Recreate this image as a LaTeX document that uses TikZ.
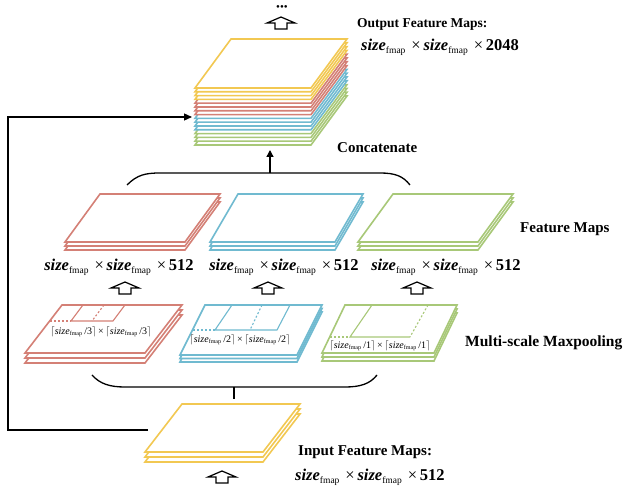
\documentclass[tikz,border=0pt]{standalone}
\usepackage{fontspec}
\setmainfont{Liberation Serif}
\usetikzlibrary{arrows.meta}
\definecolor{cy}{RGB}{242,200,82}
\definecolor{cr}{RGB}{212,128,118}
\definecolor{cb}{RGB}{112,186,208}
\definecolor{cg}{RGB}{168,200,120}
% color, bx, by, w, s, d, from, to, spacing
\newcommand\slabstack[9]{%
  \foreach \k in {#7,...,#8} {
    \filldraw[slab,draw=#1] ({#2},{#3+\k*#9}) -- ++(#4,0) -- ++(-#5,#6) -- ++(-#4,0) -- cycle;
  }}
\newcommand\fmsub{\textsubscript{\fontsize{9.5}{9.5}\selectfont fmap}}
\newcommand\fmapsize[1]{\textbf{\textit{size}}\fmsub\,\,×\,\textbf{\textit{size}}\fmsub\,\,×\,\textbf{#1}}
\newcommand\poolsize[1]{$\lceil$\textit{size}\textsubscript{\fontsize{6}{6}\selectfont fmap}\,/#1$\rceil$\,×\,$\lceil$\textit{size}\textsubscript{\fontsize{6}{6}\selectfont fmap}\,/#1$\rceil$}
\tikzset{
  slab/.style={fill=white,line width=1.6pt,line join=miter},
  heading/.style={font=\fontsize{15}{17}\selectfont\bfseries,anchor=west,inner sep=0pt},
  sizelbl/.style={font=\fontsize{16.5}{18}\selectfont,inner sep=0pt},
  poollbl/.style={font=\fontsize{10}{11}\selectfont,inner sep=1pt},
  conn/.style={line width=1.3pt,black},
  harrow/.style={line width=1.2pt,black,line join=miter},
  hollow/.pic={\draw[harrow] (0,0) -- (14,6) -- (6,6) -- (6,12) -- (-6,12) -- (-6,6) -- (-14,6) -- cycle;},
  innerl/.style={line width=1.1pt},
  innerd/.style={line width=1.1pt,dash pattern=on 2pt off 2pt},
}
\begin{document}
\begin{tikzpicture}[x=1pt,y=-1pt]
\useasboundingbox (0,0) rectangle (625,494);
% ---------- output stack ----------
\slabstack{cg}{231}{39}{116}{36}{49}{15}{12}{3.8}
\slabstack{cb}{231}{39}{116}{36}{49}{11}{8}{3.8}
\slabstack{cr}{231}{39}{116}{36}{49}{7}{4}{3.8}
\slabstack{cy}{231}{39}{116}{36}{49}{3}{0}{3.8}
\coordinate (outL) at (192,117);
\coordinate (outB) at (270,150);
\node[font=\fontsize{11}{11}\selectfont,inner sep=0pt] (dots) at (282,8) {•••};
\pic at (281,17) {hollow};
\node[heading,font=\fontsize{13.5}{15}\selectfont\bfseries] (outh) at (357,24) {Output Feature Maps:};
\node[sizelbl,anchor=west] (outs) at (361,47) {\fmapsize{2048}};
\node[heading] (concat) at (337,148) {Concatenate};
% ---------- concatenate brace ----------
\coordinate (bt1) at (127,185);
\coordinate (bt2) at (410,185);
\coordinate (btm) at (270,173);
\draw[conn] (bt1) .. controls (137,175) and (145,173) .. (160,173) -- (380,173) .. controls (395,173) and (403,176) .. (bt2);
\draw[conn,-{Triangle[length=7pt,width=7pt]}] (btm) -- (outB);
% ---------- feature maps ----------
\slabstack{cr}{100}{194}{120}{35}{48}{2}{0}{4}
\slabstack{cb}{238}{194}{125}{28}{48}{2}{0}{4}
\slabstack{cg}{393}{194}{120}{35}{48}{2}{0}{4}
\node[heading] (fmh) at (520,229) {Feature Maps};
\node[sizelbl] (fs1) at (119,267) {\fmapsize{512}};
\node[sizelbl] (fs2) at (284,267) {\fmapsize{512}};
\node[sizelbl] (fs3) at (446,267) {\fmapsize{512}};
\pic at (125,282) {hollow};
\pic at (268,282) {hollow};
\pic at (417,282) {hollow};
% ---------- maxpooling ----------
\slabstack{cr}{62}{305}{120}{37}{48}{2}{0}{5}
\draw[cr,innerl] (83,305) -- (71,321) -- (113,321) -- (125,305);
\draw[cr,innerd] (104,305) -- (92,321);
\draw[cr,innerd] (50,321) -- (71,321);
\node[poollbl] (p1) at (101,332) {\poolsize{3}};
\slabstack{cb}{205}{305}{117}{25}{50}{2}{0}{3.5}
\draw[cb,innerl] (232,305) -- (215,330) -- (277,330) -- (290,305);
\draw[cb,innerd] (262,305) -- (250,330);
\draw[cb,innerd] (193,330) -- (215,330);
\node[poollbl] (p2) at (240,340) {\poolsize{2}};
\slabstack{cg}{345}{305}{112}{23}{48}{2}{0}{4}
\draw[cg,innerl] (372,305) -- (350,337) -- (410,337);
\draw[cg,innerd] (428,305) -- (410,337);
\draw[cg,innerd] (330,337) -- (350,337);
\node[poollbl] (p3) at (380,346) {\poolsize{1}};
\node[heading,font=\fontsize{15.5}{17}\selectfont\bfseries] (mph) at (465,343) {Multi-scale Maxpooling};
% ---------- lower brace ----------
\coordinate (bb1) at (92,375);
\coordinate (bb2) at (377,375);
\coordinate (bbm) at (234,387);
\coordinate (bbt) at (234,399);
\draw[conn] (bb1) .. controls (100,384) and (110,387) .. (125,387) -- (345,387) .. controls (360,387) and (370,384) .. (bb2);
\draw[conn] (bbm) -- (bbt);
% ---------- input stack ----------
\slabstack{cy}{182}{404}{118}{37}{48}{2}{0}{5}
\pic at (222,471) {hollow};
\node[heading] (inh) at (298,452) {Input Feature Maps:};
\node[sizelbl,anchor=west] (ins) at (295,477) {\fmapsize{512}};
% ---------- feedback line ----------
\coordinate (inL) at (148,430);
\coordinate (c1) at (8,430);
\coordinate (c2) at (8,117);
\draw[conn,-{Triangle[length=8pt,width=7pt]}] (inL) -- (c1) -- (c2) -- (outL);
\end{tikzpicture}
\end{document}
